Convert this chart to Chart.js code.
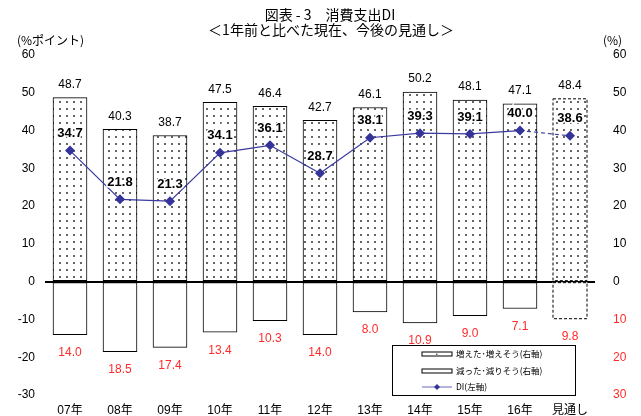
<!DOCTYPE html>
<html>
<head>
<meta charset="utf-8">
<script src="https://cdn.jsdelivr.net/npm/chart.js@4"></script>
<style>
  html, body { margin: 0; padding: 0; background: #fff; }
  #wrap { width: 641px; height: 416px; }
</style>
</head>
<body>
<div id="wrap"><canvas id="c" width="641" height="416"></canvas></div>
<script>
// 消費支出DI — 増えた/減った の積み上げ + DI 折れ線

const categories = ['07年', '08年', '09年', '10年', '11年', '12年', '13年', '14年', '15年', '16年', '見通し']
const increased = [48.7, 40.3, 38.7, 47.5, 46.4, 42.7, 46.1, 50.2, 48.1, 47.1, 48.4]
const decreased = [14.0, 18.5, 17.4, 13.4, 10.3, 14.0, 8.0, 10.9, 9.0, 7.1, 9.8]
const di = [34.7, 21.8, 21.3, 34.1, 36.1, 28.7, 38.1, 39.3, 39.1, 40.0, 38.6]
const legendLabels = ['増えた･増えそう(右軸)', '減った･減りそう(右軸)', 'DI(左軸)']

const FONT = "'Liberation Sans', Arial, 'Noto Sans CJK JP', sans-serif"
const JFONT = "'Noto Sans CJK JP', 'Liberation Sans', sans-serif"
const RED = '#ff2b2b'
const NAVY = '#333399'
const last = categories.length - 1

// dotted fill like the original
function dotPattern() {
  const p = document.createElement('canvas')
  p.width = 7
  p.height = 7
  const g = p.getContext('2d')
  g.fillStyle = '#fff'
  g.fillRect(0, 0, 7, 7)
  g.fillStyle = '#666'
  g.fillRect(3, 3, 2, 2)
  return g.createPattern(p, 'repeat')
}
const dots = dotPattern()

// ── text, labels, dashed last bar, legend ──────────────────
const overlay = {
  id: 'overlay',
  afterDatasetsDraw(chart) {
    const { ctx } = chart
    const up = chart.getDatasetMeta(0).data
    const dn = chart.getDatasetMeta(1).data
    const pts = chart.getDatasetMeta(2).data
    ctx.save()

    // dashed outline for the forecast bar
    ctx.strokeStyle = '#000'
    ctx.lineWidth = 1
    ctx.setLineDash([3, 2])
    for (const b of [up[last], dn[last]]) {
      const w = b.width
      ctx.strokeRect(b.x - w / 2, Math.min(b.y, b.base), w, Math.abs(b.base - b.y))
    }
    ctx.setLineDash([])

    ctx.textAlign = 'center'
    ctx.textBaseline = 'middle'
    ctx.font = `12px ${FONT}`
    ctx.fillStyle = '#000'
    up.forEach((b, i) => ctx.fillText(increased[i].toFixed(1), b.x, b.y - 13))
    ctx.fillStyle = RED
    dn.forEach((b, i) => ctx.fillText(decreased[i].toFixed(1), b.x, b.y + 18))

    ctx.font = `bold 13px ${FONT}`
    ctx.lineWidth = 3
    ctx.strokeStyle = '#fff'
    ctx.fillStyle = '#000'
    pts.forEach((p, i) => {
      ctx.strokeText(di[i].toFixed(1), p.x, p.y - 17)
      ctx.fillText(di[i].toFixed(1), p.x, p.y - 17)
    })
    ctx.restore()
  },
  afterDraw(chart) {
    const { ctx } = chart
    ctx.save()
    ctx.fillStyle = '#000'
    ctx.textBaseline = 'middle'
    ctx.textAlign = 'center'
    ctx.font = `14px ${JFONT}`
    ctx.fillText('図表 - 3　消費支出DI', 330, 15)
    ctx.fillText('＜1年前と比べた現在、今後の見通し＞', 331, 30)

    ctx.font = `12px ${JFONT}`
    ctx.textAlign = 'left'
    ctx.fillText('(%ポイント)', 17, 40)
    ctx.fillText('(%)', 603, 40)

    // legend box
    const lx = 392, ly = 345, lw = 183, lh = 50
    ctx.fillStyle = '#fff'
    ctx.fillRect(lx, ly, lw, lh)
    ctx.strokeStyle = '#000'
    ctx.lineWidth = 1
    ctx.strokeRect(lx + 0.5, ly + 0.5, lw, lh)
    const rows = [354, 371, 387]
    const sx = 422, sw = 30
    ctx.fillStyle = '#fff'
    ctx.fillRect(sx, rows[0] - 2, sw, 4)
    ctx.strokeRect(sx, rows[0] - 2, sw, 4)
    ctx.fillStyle = '#666'
    ctx.fillRect(sx + 14, rows[0] - 0.5, 1.5, 1.5)
    ctx.fillStyle = '#fff'
    ctx.fillRect(sx, rows[1] - 2, sw, 4)
    ctx.strokeRect(sx, rows[1] - 2, sw, 4)
    ctx.strokeStyle = '#6666bb'
    ctx.beginPath()
    ctx.moveTo(sx, rows[2])
    ctx.lineTo(sx + sw, rows[2])
    ctx.stroke()
    ctx.fillStyle = NAVY
    ctx.beginPath()
    ctx.moveTo(sx + 15, rows[2] - 3)
    ctx.lineTo(sx + 18, rows[2])
    ctx.lineTo(sx + 15, rows[2] + 3)
    ctx.lineTo(sx + 12, rows[2])
    ctx.fill()
    ctx.fillStyle = '#000'
    ctx.font = `8.5px ${JFONT}`
    legendLabels.forEach((t, i) => ctx.fillText(t, 456, rows[i]))
    ctx.restore()
  },
}

new Chart(document.getElementById('c'), {
  data: {
    labels: categories,
    datasets: [
      {
        type: 'bar',
        data: increased,
        backgroundColor: dots,
        borderColor: '#000',
        borderWidth: increased.map((_, i) => (i === last ? 0 : 1)),
        borderSkipped: false,
        barThickness: 34,
        yAxisID: 'y',
        order: 2,
      },
      {
        type: 'bar',
        data: decreased.map((v) => -v),
        backgroundColor: '#fff',
        borderColor: '#000',
        borderWidth: decreased.map((_, i) => (i === last ? 0 : 1)),
        borderSkipped: false,
        barThickness: 34,
        yAxisID: 'y',
        order: 2,
      },
      {
        type: 'line',
        data: di,
        borderColor: '#3a3aa0',
        backgroundColor: NAVY,
        borderWidth: 1.2,
        pointStyle: 'rectRot',
        pointRadius: 5,
        pointBorderWidth: 0,
        segment: {
          borderDash: (c) => (c.p1DataIndex === last ? [4, 3] : undefined),
        },
        yAxisID: 'y',
        order: 1,
      },
    ],
  },
  options: {
    responsive: false,
    animation: false,
    layout: { padding: { top: 55, left: 0, right: 0, bottom: 0 } },
    plugins: { legend: { display: false }, tooltip: { enabled: false } },
    scales: {
      x: {
        stacked: true,
        grid: { display: false, drawTicks: false },
        border: { display: false },
        ticks: { color: '#000', font: { family: FONT, size: 12 }, padding: 8 },
        afterFit: (s) => { s.height = 21 },
      },
      y: {
        position: 'left',
        min: -30,
        max: 60,
        ticks: { stepSize: 10, color: '#000', font: { family: FONT, size: 12 }, padding: 10 },
        grid: {
          drawTicks: false,
          color: (c) => (c.tick && c.tick.value === 0 ? '#000' : 'transparent'),
          lineWidth: (c) => (c.tick && c.tick.value === 0 ? 2 : 0),
        },
        border: { display: false },
        afterFit: (s) => { s.width = 45 },
      },
      y2: {
        position: 'right',
        min: -30,
        max: 60,
        ticks: {
          stepSize: 10,
          padding: 10,
          font: { family: FONT, size: 12 },
          color: (c) => (c.tick.value < 0 ? RED : '#000'),
          callback: (v) => Math.abs(v),
        },
        grid: { display: false },
        border: { display: false },
        afterFit: (s) => { s.width = 46 },
      },
    },
  },
  plugins: [overlay],
})
</script>
</body>
</html>
